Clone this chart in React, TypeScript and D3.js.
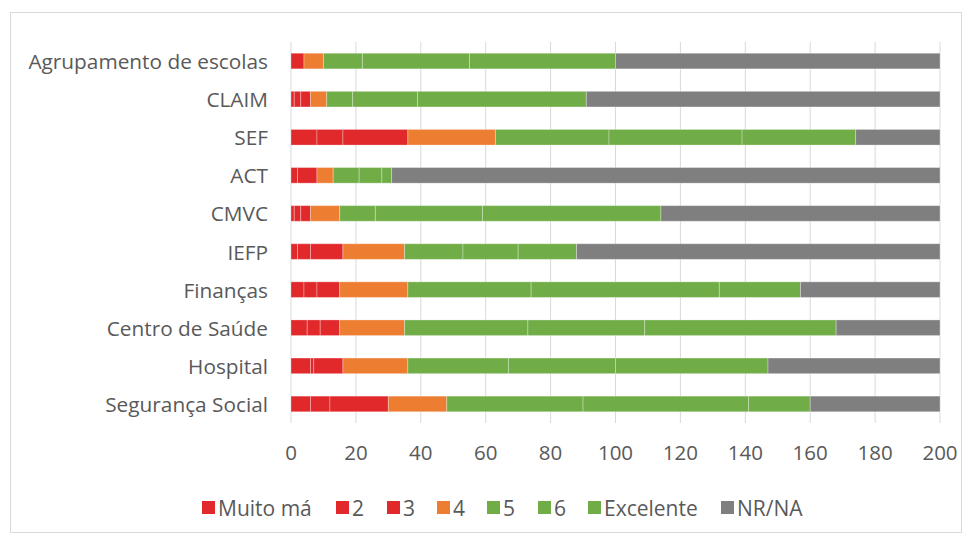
import React from "react";
import * as d3 from "d3";

const categories = [
  "Agrupamento de escolas",
  "CLAIM",
  "SEF",
  "ACT",
  "CMVC",
  "IEFP",
  "Finanças",
  "Centro de Saúde",
  "Hospital",
  "Segurança Social",
];
const seriesNames = ["Muito má", "2", "3", "4", "5", "6", "Excelente", "NR/NA"];
const muitoMa = [0, 1, 8, 2, 1, 2, 4, 5, 6, 6];
const s2 = [0, 2, 8, 6, 2, 4, 4, 4, 1, 6];
const s3 = [4, 3, 20, 0, 3, 10, 7, 6, 9, 18];
const s4 = [6, 5, 27, 5, 9, 19, 21, 20, 20, 18];
const s5 = [12, 8, 35, 8, 11, 18, 38, 38, 31, 42];
const s6 = [33, 20, 41, 7, 33, 17, 58, 36, 33, 51];
const excelente = [45, 52, 35, 3, 55, 18, 25, 59, 47, 19];
const nrna = [100, 109, 26, 169, 86, 112, 43, 32, 53, 40];
const ticks = [0, 20, 40, 60, 80, 100, 120, 140, 160, 180, 200];
const colors = ["#E1282A", "#E1282A", "#E1282A", "#ED7D31", "#70AD47", "#70AD47", "#70AD47", "#7F7F7F"];

const W = 972;
const H = 541;
const FONT = "'Open Sans', 'Noto Sans', sans-serif";

export default function App() {
  const seriesValues = [muitoMa, s2, s3, s4, s5, s6, excelente, nrna];
  const rows = categories.map((c, i) => {
    const r: any = { cat: c };
    seriesNames.forEach((s, k) => (r[s] = seriesValues[k][i]));
    return r;
  });
  const stacked = d3.stack<any>().keys(seriesNames)(rows);
  const x = d3.scaleLinear().domain([0, 200]).range([291, 940]);
  const y = d3.scaleBand().domain(categories).range([42, 423]).paddingInner(0.59).paddingOuter(0.295);

  const legendX = [202, 336, 387, 437, 487, 538, 588, 721];

  return (
    <svg width={W} height={H} style={{ position: "absolute", left: 0, top: 0 }} fontFamily={FONT}>
      <rect x={0} y={0} width={W} height={H} fill="#fff" />
      <rect x={10.5} y={12.5} width={951} height={520} fill="#fff" stroke="#D9D9D9" strokeWidth={1} />
      {ticks.map((t) => (
        <line key={t} x1={x(t)} x2={x(t)} y1={42} y2={423} stroke="#D9D9D9" strokeWidth={1} />
      ))}
      {stacked.map((layer, k) => (
        <g key={layer.key}>
          {layer.map((d, i) =>
            d[1] - d[0] > 0 ? (
              <rect
                key={i}
                x={x(d[0])}
                y={y(categories[i])!}
                width={x(d[1]) - x(d[0])}
                height={y.bandwidth()}
                fill={colors[k]}
                stroke="#fff"
                strokeOpacity={0.3}
                strokeWidth={1}
              />
            ) : null
          )}
        </g>
      ))}
      {categories.map((c) => (
        <text
          key={c}
          x={268}
          y={y(c)! + y.bandwidth() / 2}
          textAnchor="end"
          dominantBaseline="central"
          fontSize={20.8}
          fill="#595959"
        >
          {c}
        </text>
      ))}
      {ticks.map((t) => (
        <text key={t} x={x(t)} y={452} textAnchor="middle" dominantBaseline="central" fontSize={20.5} fill="#595959">
          {t}
        </text>
      ))}
      {seriesNames.map((s, k) => (
        <g key={s}>
          <rect x={legendX[k]} y={501} width={13} height={13} fill={colors[k]} />
          <text x={legendX[k] + 16} y={508} dominantBaseline="central" fontSize={21} fill="#595959">
            {s}
          </text>
        </g>
      ))}
    </svg>
  );
}
